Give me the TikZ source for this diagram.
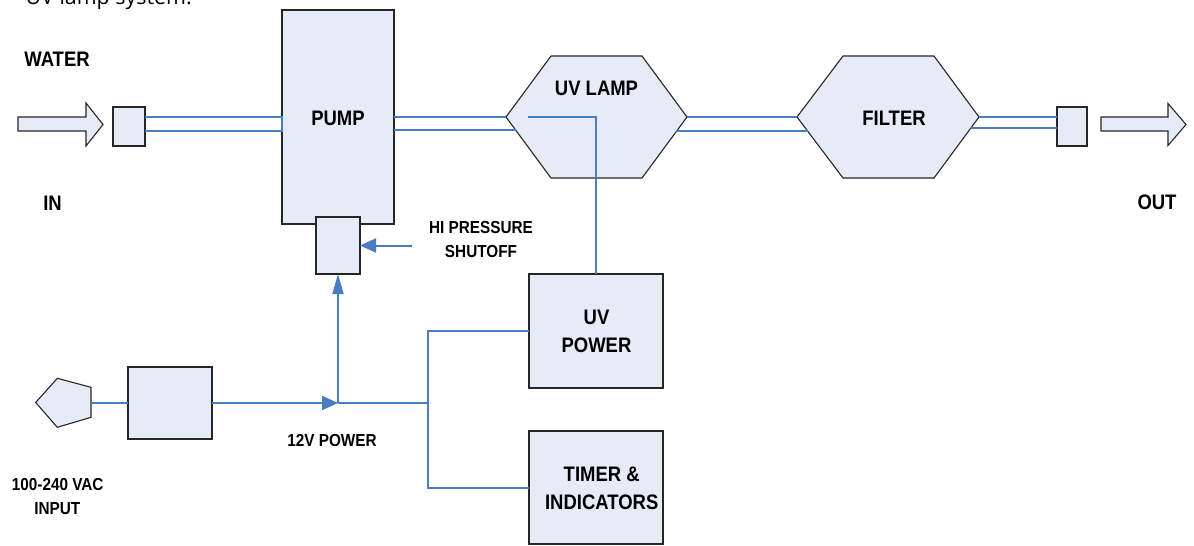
\documentclass[tikz,border=0pt]{standalone}
\usepackage{fontspec}
\setmainfont{Liberation Sans}
\newfontfamily\lblfont{Liberation Sans}[FakeStretch=0.88]
\newfontfamily\capfont{Open Sans}
\usetikzlibrary{arrows.meta}
\definecolor{fillb}{HTML}{E6ECF7}
\definecolor{wireb}{HTML}{4A7CC4}
\definecolor{edgec}{HTML}{262626}
\begin{document}
\begin{tikzpicture}[x=1pt,y=-1pt,
  box/.style={draw=edgec,fill=fillb,line width=1.1pt,inner sep=0pt,outer sep=0pt,rectangle},
  shapebox/.style={draw=edgec,fill=fillb,line width=1.1pt,line join=miter},
  lbl/.style={font=\lblfont\bfseries\fontsize{21}{28}\selectfont,inner sep=0pt,anchor=base},
  slbl/.style={font=\lblfont\bfseries\fontsize{17.4}{24}\selectfont,inner sep=0pt,anchor=base},
  wire/.style={draw=wireb,line width=2pt},
  pipe/.style={draw=wireb,line width=2.2pt},
  tipA/.style={-{Triangle[length=16pt,width=14pt]}},
  tipB/.style={-{Triangle[length=20pt,width=11pt]}}]
\useasboundingbox (0,0) rectangle (1194,546);
\fill[white] (0,0) rectangle (1194,546);
\clip (0,0) rectangle (1194,546);

% caption fragment (cut at top)
\node[font=\capfont\fontsize{21.4}{26}\selectfont,inner sep=0pt,anchor=base east] (caption) at (192,4.5) {UV lamp system.};

% block arrows
\draw[shapebox] (18,117) -- (86,117) -- (86,103) -- (103,124.5) -- (86,146) -- (86,131) -- (18,131) -- cycle;
\draw[shapebox] (1101,117) -- (1168,117) -- (1168,103.5) -- (1186,124.5) -- (1168,145.5) -- (1168,131) -- (1101,131) -- cycle;

% boxes
\node[box,minimum width=32,minimum height=39] (inbox) at (129,126.5) {};
\node[box,minimum width=30,minimum height=39] (outbox) at (1072,126.5) {};
\node[box,minimum width=112,minimum height=214] (pump) at (338,117) {};
\node[box,minimum width=44,minimum height=57] (pres) at (338,245.5) {};
\node[box,minimum width=134,minimum height=114] (uvp) at (596,331) {};
\node[box,minimum width=134,minimum height=113] (timer) at (596,487.5) {};
\node[box,minimum width=84,minimum height=72] (conv) at (170,403) {};

% hexagons
\draw[shapebox] (506,117) coordinate (lampL) -- (551,56) -- (642,56) -- (687,117) coordinate (lampR) -- (642,178) -- (551,178) -- cycle;
\draw[shapebox] (797,117) coordinate (filtL) -- (843,56) -- (934,56) -- (979,117) coordinate (filtR) -- (934,178) -- (843,178) -- cycle;

% plug
\draw[shapebox] (35.7,402.5) -- (57.3,378.3) -- (91,387.3) -- (91,417.3) -- (57.3,427.3) -- cycle;
\coordinate (plugR) at (91,403);

% pipe coordinates
\coordinate (lampLL) at (515.6,130);
\coordinate (lampRL) at (676.3,131);
\coordinate (filtLL) at (807.6,131);
\coordinate (filtRL) at (970.7,128);

% pipes
\draw[pipe] (inbox.east |- 0,117) -- (pump.west |- 0,117) -- (pump.west |- 0,131) -- (inbox.east |- 0,131);
\draw[pipe] (pump.east |- lampL) -- (lampL);
\draw[pipe] (pump.east |- lampLL) -- (lampLL);
\draw[pipe] (lampR) -- (filtL);
\draw[pipe] (lampRL) -- (filtLL);
\draw[pipe] (filtR) -- (outbox.west |- filtR);
\draw[pipe] (filtRL) -- (outbox.west |- filtRL);

% wiring
\coordinate (lampin) at (528,117);
\coordinate (j1) at (338,403);
\coordinate (j2) at (428,403);
\coordinate (shut) at (412,245.5);
\draw[wire] (lampin) -| (uvp.north);
\draw[wire] (plugR) -- (conv.west);
\draw[wire,tipA] (conv.east) -- (j1);
\draw[wire] (j1) -- (j2);
\draw[wire,tipB] (j1) -- (pres.south);
\draw[wire,tipA] (shut) -- (pres.east);
\draw[wire] (uvp.west) -- (uvp.west -| j2) |- (timer.west);

% labels
\node[lbl] (tWater) at (57,66.7) {WATER};
\node[lbl] (tIn) at (52.5,210) {IN};
\node[lbl] (tPump) at (338,125) {PUMP};
\node[lbl] (tLamp) at (596.5,95.7) {UV LAMP};
\node[lbl] (tFilter) at (894,125) {FILTER};
\node[lbl] (tOut) at (1157,209) {OUT};
\node[slbl] (tHi) at (481,233) {HI PRESSURE};
\node[slbl] (tShut) at (481,257) {SHUTOFF};
\node[lbl] (tUV) at (596.5,324.3) {UV};
\node[lbl] (tPower) at (596.5,352.5) {POWER};
\node[lbl] (tTimer) at (601.7,481) {TIMER \&};
\node[lbl] (tInd) at (601.7,509.3) {INDICATORS};
\node[slbl] (t12) at (332,446) {12V POWER};
\node[slbl] (tVac) at (57.7,490) {100-240 VAC};
\node[slbl] (tInput) at (57.3,514) {INPUT};
\end{tikzpicture}
\end{document}
